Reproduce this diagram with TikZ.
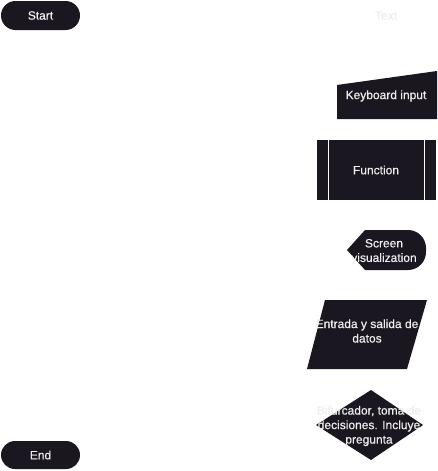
\documentclass[tikz,border=0pt]{standalone}
\usepackage{fontspec}
\setmainfont{Liberation Sans}
\newfontfamily\semib[FakeBold=0.6]{Liberation Sans}
\definecolor{shapefill}{HTML}{1A1720}
\definecolor{txt}{HTML}{EEEEEE}
\begin{document}
\begin{tikzpicture}[x=1pt,y=-1pt]
\tikzset{
  lbl/.style={text=txt, font=\semib\fontsize{12}{14.5}\selectfont, align=center, inner sep=0pt},
  shp/.style={fill=shapefill, draw=none}
}
\useasboundingbox[fill=white] (0,0) rectangle (437,471);
% Start
\fill[shp, rounded corners=14.5] (1,1) rectangle (80,30);
\node[lbl] (start) at (40.5,15.5) {Start};
% Text
\node[lbl] (txtlabel) at (386,15.5) {Text};
% Keyboard input
\fill[shp] (337,85) -- (437,71) -- (437,119) -- (337,119) -- cycle;
\node[lbl] (kbd) at (386,96) {Keyboard input};
% Function
\fill[shp] (317,140) rectangle (436,200);
\draw[white, line width=1pt] (328,140) -- (328,200);
\draw[white, line width=1pt] (424,140) -- (424,200);
\node[lbl] (func) at (376,170) {Function};
% Screen visualization
\fill[shp] (347,250) -- (365,230) [rounded corners=18] -- (426,230) -- (426,270) [sharp corners] -- (365,270) -- cycle;
\node[lbl] (screen) at (384,250.5) {Screen\\visualization};
% Entrada y salida
\fill[shp] (325,300) -- (427,300) -- (407,369) -- (307,369) -- cycle;
\node[lbl] (io) at (367,331) {Entrada y salida de\\datos};
% Decision
\fill[shp] (371,390) -- (423,425) -- (371,460) -- (316,425) -- cycle;
\node[lbl] (dec) at (369,426) {Bifurcador, toma de\\decisiones. Incluye\\pregunta};
% End
\fill[shp, rounded corners=14] (1,441) rectangle (80,469);
\node[lbl] (end) at (40.5,455) {End};
\end{tikzpicture}
\end{document}
